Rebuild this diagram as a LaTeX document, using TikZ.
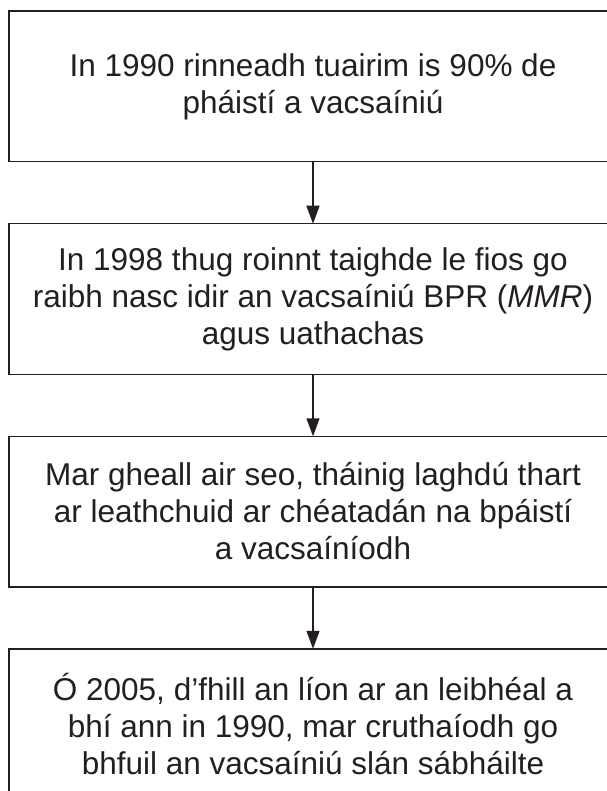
\documentclass[tikz,border=0pt]{standalone}
\usepackage{fontspec}
\setmainfont{Liberation Sans}
\usepackage{tikz}
\usetikzlibrary{positioning,arrows.meta}
\usepackage{xcolor}
\definecolor{ink}{HTML}{231F20}
\tikzset{
    stage/.style = {
        text = ink,
        outer sep = 0.75pt,
        minimum width = 607pt,
        minimum height = 149pt,
        align = center,
        font = \fontsize{31.5}{37}\selectfont,
    },
    frame/.style = {
        draw = ink,
        line width = 1.5pt,
    }
}

\begin{document}
\begin{tikzpicture}[x=1pt,y=-1pt]
    \useasboundingbox (0,0) rectangle (606,791);

    \node[stage] (Vacc1990) at (313,86.5) {In 1990 rinneadh tuairim is 90\% de\\ pháistí a vacsaíniú};
    \node[stage, below=62pt of Vacc1990] (Study1998) {In 1998 thug roinnt taighde le fios go\\ raibh nasc idir an vacsaíniú BPR (\textit{MMR})\\ agus uathachas};
    \node[stage, below=62pt of Study1998] (Drop) {Mar gheall air seo, tháinig laghdú thart\\ ar leathchuid ar chéatadán na bpáistí\\ a vacsaíníodh};
    \node[stage, below=62pt of Drop] (Recovery) {Ó 2005, d’fhill an líon ar an leibhéal a\\ bhí ann in 1990, mar cruthaíodh go\\ bhfuil an vacsaíniú slán sábháilte};

    % boxes run on past the right edge of the page
    \draw[frame] (Vacc1990.north west) rectangle ([xshift=60pt]Vacc1990.south east);
    \draw[frame] (Study1998.north west) rectangle ([xshift=60pt]Study1998.south east);
    \draw[frame] (Drop.north west) rectangle ([xshift=60pt]Drop.south east);
    \draw[frame] (Recovery.north west) rectangle ([xshift=60pt]Recovery.south east);

    \draw[-{Triangle[length=18pt,width=13pt]},draw=ink,fill=ink,line width=1.5pt] (Vacc1990) to (Study1998);
    \draw[-{Triangle[length=18pt,width=13pt]},draw=ink,fill=ink,line width=1.5pt] (Study1998) to (Drop);
    \draw[-{Triangle[length=18pt,width=13pt]},draw=ink,fill=ink,line width=1.5pt] (Drop) to (Recovery);

  \end{tikzpicture}
\end{document}
